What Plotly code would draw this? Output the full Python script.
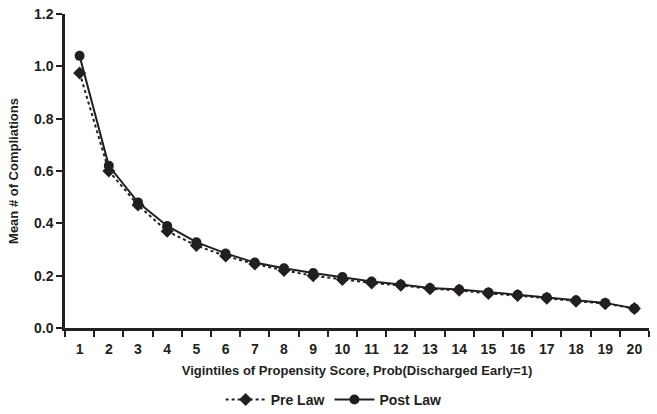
import plotly.graph_objects as go

vigintiles = [str(i) for i in range(1, 21)]
pre_law = [0.975, 0.60, 0.47, 0.37, 0.315, 0.275, 0.245, 0.22, 0.20, 0.185,
           0.172, 0.163, 0.150, 0.144, 0.132, 0.124, 0.114, 0.102, 0.093, 0.075]
post_law = [1.04, 0.62, 0.48, 0.39, 0.328, 0.285, 0.25, 0.228, 0.21, 0.195,
            0.178, 0.166, 0.153, 0.147, 0.136, 0.127, 0.117, 0.106, 0.096, 0.075]

font = "Arial, Liberation Sans, sans-serif"
ink = "#231f20"

fig = go.Figure()
fig.add_trace(go.Scatter(
    x=vigintiles, y=pre_law, name="Pre Law", mode="lines+markers",
    line=dict(color=ink, width=2, dash="dot"),
    marker=dict(symbol="diamond", size=10, color=ink),
))
fig.add_trace(go.Scatter(
    x=vigintiles, y=post_law, name="Post Law", mode="lines+markers",
    line=dict(color=ink, width=2),
    marker=dict(symbol="circle", size=10, color=ink),
))

fig.update_layout(
    width=657, height=414,
    margin=dict(l=65, r=8, t=14, b=86),
    paper_bgcolor="white", plot_bgcolor="white",
    font=dict(family=font, color=ink, weight="bold"),
    showlegend=True,
    legend=dict(orientation="h", x=0.46, xanchor="center",
                yref="container", y=0.034, yanchor="middle",
                font=dict(size=14, family=font, weight="bold"), itemwidth=40,
                tracegroupgap=0),
    xaxis=dict(
        type="category", tickson="boundaries", ticks="outside", ticklen=6,
        tickwidth=2, tickcolor=ink, automargin=False, ticklabelstandoff=6,
        showline=True, linecolor=ink, linewidth=2.5, showgrid=False,
        tickfont=dict(size=14, family=font, weight="bold"),
        title=dict(text="Vigintiles of Propensity Score, Prob(Discharged Early=1)",
                   font=dict(size=13, weight="bold"), standoff=11),
        range=[-0.5, 19.5],
    ),
    yaxis=dict(
        range=[0, 1.2], dtick=0.2, tickformat=".1f", ticks="outside", ticklen=6,
        tickwidth=2, tickcolor=ink, automargin=False,
        showline=True, linecolor=ink, linewidth=2.5, showgrid=False,
        zeroline=False,
        tickfont=dict(size=14, family=font, weight="bold"),
        title=dict(text="Mean # of Compliations", font=dict(size=13, weight="bold"),
                   standoff=13),
    ),
)

fig.write_html("out.html", post_script="document.body.style.margin='0';",
               config={"displayModeBar": False})
